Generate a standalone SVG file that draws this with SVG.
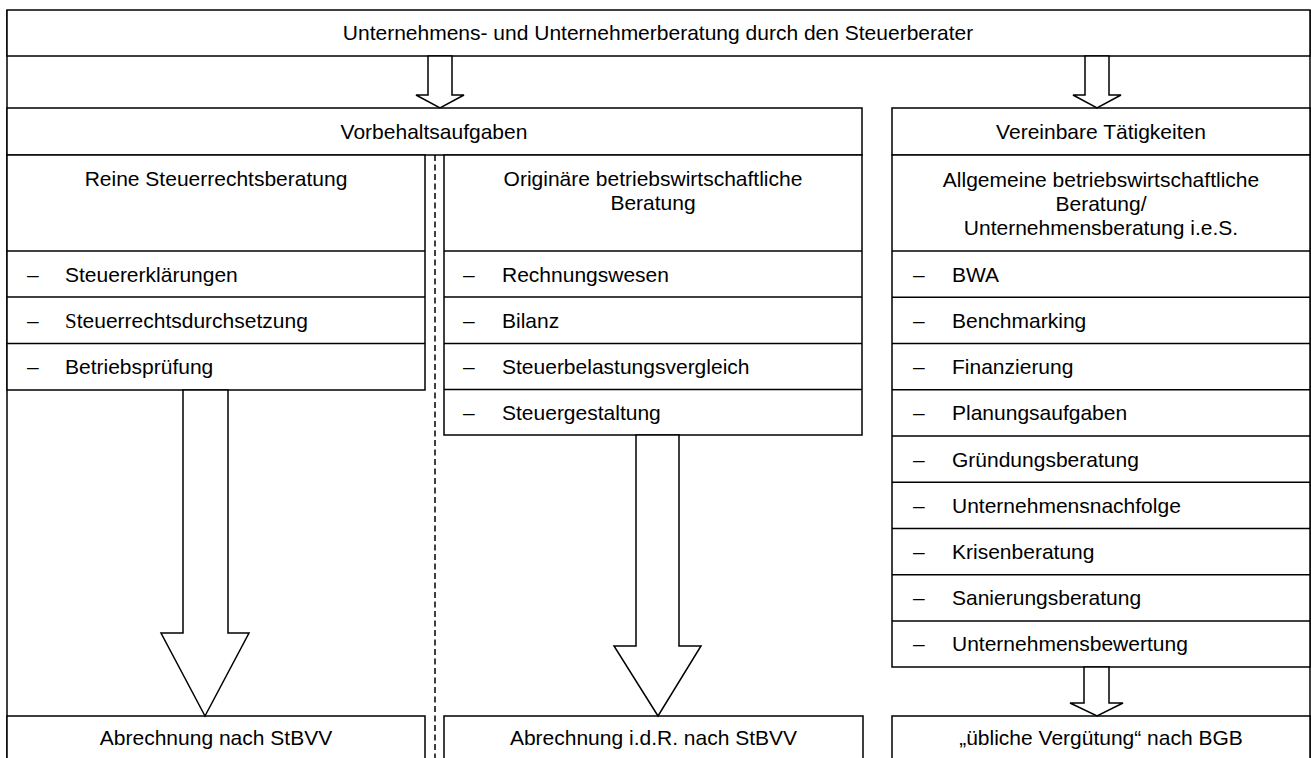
<svg xmlns="http://www.w3.org/2000/svg" width="1311" height="758" viewBox="0 0 1311 758">
<style>
.b{fill:#fff;stroke:#000;stroke-width:1.5}
.l{stroke:#000;stroke-width:1.5;fill:none}
.ar{fill:#fff;stroke:#000;stroke-width:1.5;stroke-linejoin:miter}
.t{font-family:"Liberation Sans",Arial,sans-serif;font-size:21px;fill:#000}
.c{text-anchor:middle}
.d{stroke:#000;stroke-width:1.5;stroke-dasharray:6,3.5}
</style>
<rect width="1311" height="758" fill="#fff"/>
<g id="frame">
<line class="l" x1="7" y1="10" x2="7" y2="760"/>
<line class="l" x1="1310" y1="10" x2="1310" y2="760"/>
</g>
<g id="title">
<rect class="b" x="7" y="10" width="1303" height="46"/>
<text class="t c" x="658" y="40">Unternehmens- und Unternehmerberatung durch den Steuerberater</text>
</g>
<g id="vorbehalt">
<rect class="b" x="7" y="108" width="855" height="47"/>
<text class="t c" x="434" y="139">Vorbehaltsaufgaben</text>
</g>
<g id="vereinbar">
<rect class="b" x="892" y="108" width="418" height="47"/>
<text class="t c" x="1101" y="139">Vereinbare Tätigkeiten</text>
</g>
<g id="col-steuerrecht">
<rect class="b" x="7" y="155" width="418" height="235"/>
<line class="l" x1="7" y1="251" x2="425" y2="251"/>
<line class="l" x1="7" y1="297" x2="425" y2="297"/>
<line class="l" x1="7" y1="343.5" x2="425" y2="343.5"/>
<text class="t c" x="216" y="186">Reine Steuerrechtsberatung</text>
<text class="t" x="27" y="282">–</text><text class="t" x="65" y="282">Steuererklärungen</text>
<text class="t" x="27" y="328">–</text><text class="t" x="65" y="328"><tspan font-family="Liberation Serif,serif">S</tspan>teuerrechtsdurchsetzung</text>
<text class="t" x="27" y="374">–</text><text class="t" x="65" y="374">Betriebsprüfung</text>
</g>
<g id="col-bwl">
<rect class="b" x="444" y="155" width="418" height="280"/>
<line class="l" x1="444" y1="251" x2="862" y2="251"/>
<line class="l" x1="444" y1="297" x2="862" y2="297"/>
<line class="l" x1="444" y1="343.5" x2="862" y2="343.5"/>
<line class="l" x1="444" y1="389.5" x2="862" y2="389.5"/>
<text class="t c" x="653" y="186">Originäre betriebswirtschaftliche</text>
<text class="t c" x="653" y="210">Beratung</text>
<text class="t" x="463" y="282">–</text><text class="t" x="502" y="282">Rechnungswesen</text>
<text class="t" x="463" y="328">–</text><text class="t" x="502" y="328">Bilanz</text>
<text class="t" x="463" y="374">–</text><text class="t" x="502" y="374">Steuerbelastungsvergleich</text>
<text class="t" x="463" y="420">–</text><text class="t" x="502" y="420">Steuergestaltung</text>
</g>
<g id="col-allgemein">
<rect class="b" x="892" y="155" width="418" height="512"/>
<line class="l" x1="892" y1="251" x2="1310" y2="251"/>
<line class="l" x1="892" y1="297.25" x2="1310" y2="297.25"/>
<line class="l" x1="892" y1="343.5" x2="1310" y2="343.5"/>
<line class="l" x1="892" y1="389.75" x2="1310" y2="389.75"/>
<line class="l" x1="892" y1="436" x2="1310" y2="436"/>
<line class="l" x1="892" y1="482.25" x2="1310" y2="482.25"/>
<line class="l" x1="892" y1="528.5" x2="1310" y2="528.5"/>
<line class="l" x1="892" y1="574.75" x2="1310" y2="574.75"/>
<line class="l" x1="892" y1="621" x2="1310" y2="621"/>
<text class="t c" x="1101" y="187">Allgemeine betriebswirtschaftliche</text>
<text class="t c" x="1101" y="211">Beratung/</text>
<text class="t c" x="1101" y="235">Unternehmensberatung i.e.S.</text>
<text class="t" x="913" y="282">–</text><text class="t" x="952" y="282">BWA</text>
<text class="t" x="913" y="328">–</text><text class="t" x="952" y="328">Benchmarking</text>
<text class="t" x="913" y="374">–</text><text class="t" x="952" y="374">Finanzierung</text>
<text class="t" x="913" y="420">–</text><text class="t" x="952" y="420">Planungsaufgaben</text>
<text class="t" x="913" y="467">–</text><text class="t" x="952" y="467">Gründungsberatung</text>
<text class="t" x="913" y="513">–</text><text class="t" x="952" y="513">Unternehmensnachfolge</text>
<text class="t" x="913" y="559">–</text><text class="t" x="952" y="559">Krisenberatung</text>
<text class="t" x="913" y="605">–</text><text class="t" x="952" y="605">Sanierungsberatung</text>
<text class="t" x="913" y="651">–</text><text class="t" x="952" y="651">Unternehmensbewertung</text>
</g>
<g id="bottom-left">
<rect class="b" x="7" y="716" width="418" height="60"/>
<text class="t c" x="216" y="745">Abrechnung nach StBVV</text>
</g>
<g id="bottom-mid">
<rect class="b" x="444" y="716" width="419" height="60"/>
<text class="t c" x="653.5" y="745">Abrechnung i.d.R. nach StBVV</text>
</g>
<g id="bottom-right">
<rect class="b" x="892" y="716" width="418" height="60"/>
<text class="t c" x="1101" y="745">„übliche Vergütung“ nach BGB</text>
</g>
<g id="connectors">
<line class="d" x1="435" y1="155" x2="435" y2="758"/>
<polygon class="ar" points="428,56 452,56 452,95 464,95 440,108 416,95 428,95"/>
<polygon class="ar" points="1085,56 1109,56 1109,95 1121,95 1097,108 1073,95 1085,95"/>
<polygon class="ar" points="183,390 228,390 228,633 249,633 205,716 161,633 183,633"/>
<polygon class="ar" points="636,435 679,435 679,646 701,646 658,716 614,646 636,646"/>
<polygon class="ar" points="1084,667 1109,667 1109,703 1123,703 1097,716 1070,703 1084,703"/>
</g>
</svg>
